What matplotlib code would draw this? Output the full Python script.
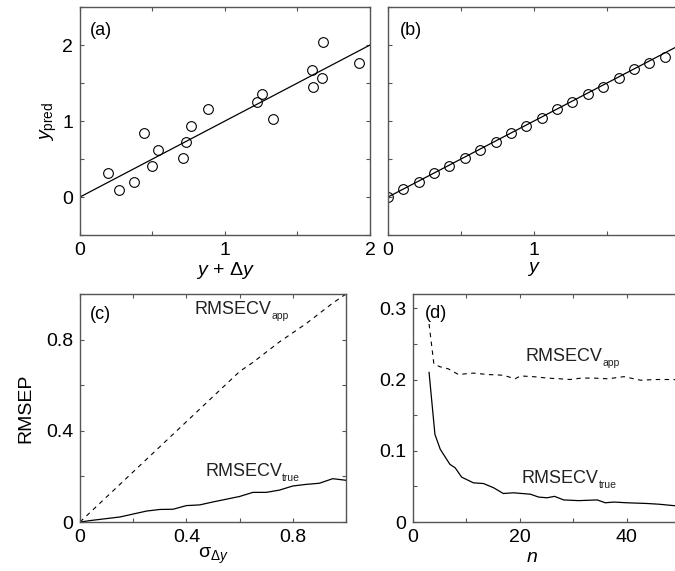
import numpy as np
import matplotlib
matplotlib.use('Agg')
import matplotlib.pyplot as plt

plt.rcParams['font.family'] = ['Liberation Sans', 'DejaVu Sans']
plt.rcParams['mathtext.fontset'] = 'custom'
plt.rcParams['mathtext.rm'] = 'Liberation Sans'
plt.rcParams['mathtext.it'] = 'Liberation Sans:italic'
plt.rcParams['mathtext.sf'] = 'Liberation Sans'

# (a) predictions against noisy reference values
a_x = [0.19, 0.27, 0.375, 0.44, 0.50, 0.54, 0.71, 0.73, 0.765, 0.88,
       1.22, 1.255, 1.33, 1.60, 1.605, 1.67, 1.675, 1.925]
a_y = [0.31, 0.09, 0.20, 0.84, 0.41, 0.62, 0.52, 0.73, 0.94, 1.16,
       1.25, 1.36, 1.03, 1.675, 1.45, 1.56, 2.04, 1.76]
fit_x = [0, 2]
fit_y = [0, 2]

# (b) predictions against true values
b_x = [0, 0.105, 0.211, 0.316, 0.421, 0.526, 0.632, 0.737, 0.842, 0.947,
       1.053, 1.158, 1.263, 1.368, 1.474, 1.579, 1.684, 1.789, 1.895, 2.0]
b_y = [0, 0.10, 0.20, 0.31, 0.41, 0.52, 0.62, 0.73, 0.84, 0.94,
       1.04, 1.16, 1.25, 1.36, 1.45, 1.56, 1.68, 1.76, 1.84, 2.04]

# (c) RMSECV vs noise level
sigma = [0, 0.05, 0.1, 0.15, 0.2, 0.25, 0.3, 0.35, 0.4, 0.45, 0.5,
         0.55, 0.6, 0.65, 0.7, 0.75, 0.8, 0.85, 0.9, 0.95, 1.0]
c_app = [0, 0.055, 0.11, 0.165, 0.22, 0.275, 0.33, 0.385, 0.44, 0.495, 0.55,
         0.605, 0.66, 0.70, 0.745, 0.79, 0.83, 0.87, 0.915, 0.96, 1.0]
c_true = [0, 0.008, 0.015, 0.022, 0.035, 0.048, 0.055, 0.056, 0.072, 0.075,
          0.088, 0.10, 0.112, 0.13, 0.13, 0.14, 0.158, 0.165, 0.17, 0.19, 0.183]

# (d) RMSECV vs number of samples
n_app = [3, 3.9, 5, 6.6, 8.5, 11.3, 14, 16.9, 19.1, 20.1, 22.5, 25.1,
         27.5, 29.5, 31.5, 33.8, 36.5, 39.5, 42.6, 45.5, 48.8, 50]
d_app = [0.278, 0.222, 0.218, 0.215, 0.207, 0.209, 0.207, 0.206, 0.201, 0.205,
         0.204, 0.202, 0.201, 0.200, 0.202, 0.202, 0.201, 0.204, 0.199, 0.200,
         0.200, 0.199]
n_true = [3, 4.1, 5.1, 6.9, 7.9, 9.1, 11.3, 13.2, 15.1, 16.9, 18.8, 22,
          23.5, 25.1, 26.5, 28.2, 31, 34.5, 36, 37.6, 40, 43.8, 46, 48.8, 50]
d_true = [0.210, 0.123, 0.102, 0.081, 0.076, 0.063, 0.055, 0.054, 0.048, 0.040,
          0.041, 0.039, 0.035, 0.034, 0.036, 0.031, 0.030, 0.031, 0.027, 0.028,
          0.027, 0.026, 0.025, 0.023, 0.023]

spine_col = '#555555'
fs_tick = 14
fs_lab = 14


def style(ax, xt, xl, yt, yl):
    ax.set_xticks(xt, xl)
    ax.set_yticks(yt, yl)
    ax.tick_params(direction='in', length=3, width=0.8, color=spine_col,
                   top=True, right=True, labelsize=fs_tick, pad=5)
    for s in ax.spines.values():
        s.set_color(spine_col)
        s.set_linewidth(1.0)


def sub_label(ax, x, y, main, sub):
    t = ax.text(x, y, main, transform=ax.transAxes, fontsize=13,
                va='center', ha='left', color='#222222')
    ax.annotate(sub, xy=(1.0, 0.12), xycoords=t, fontsize=7.5,
                va='center', ha='left', color='#222222')


fig = plt.figure(figsize=[6.75, 5.71], dpi=100)
ax_a = fig.add_axes([0.1185, 0.5884, 0.4296, 0.3993])
ax_b = fig.add_axes([0.5748, 0.5884, 0.4326, 0.3993])
ax_c = fig.add_axes([0.1185, 0.0858, 0.3941, 0.3993])
ax_d = fig.add_axes([0.6119, 0.0858, 0.3956, 0.3993])

ticks_ab = [0, 0.5, 1, 1.5, 2]
labs_ab = ['0', '', '1', '', '2']
yticks_ab = [-0.5, 0, 0.5, 1, 1.5, 2, 2.5]

# (a)
ax_a.plot(fit_x, fit_y, 'k-', lw=0.9)
ax_a.plot(a_x, a_y, 'o', mfc='none', mec='k', ms=7, mew=0.8)
ax_a.set_xlim(0, 2)
ax_a.set_ylim(-0.5, 2.5)
style(ax_a, ticks_ab, labs_ab, yticks_ab, ['', '0', '', '1', '', '2', ''])
ax_a.set_xlabel(r'$y$ + $\Delta y$', fontsize=fs_lab, labelpad=1)
ax_a.set_ylabel(r'$y_{\mathrm{pred}}$', fontsize=fs_lab, labelpad=2)
ax_a.text(0.035, 0.895, '(a)', transform=ax_a.transAxes, fontsize=13,
          va='center')

# (b)
ax_b.plot(fit_x, fit_y, 'k-', lw=0.9)
ax_b.plot(b_x, b_y, 'o', mfc='none', mec='k', ms=7, mew=0.8)
ax_b.set_xlim(0, 2)
ax_b.set_ylim(-0.5, 2.5)
style(ax_b, ticks_ab, labs_ab, yticks_ab, [''] * 7)
ax_b.set_xlabel(r'$y$', fontsize=fs_lab, labelpad=1)
ax_b.text(0.041, 0.895, '(b)', transform=ax_b.transAxes, fontsize=13,
          va='center')

# (c)
ax_c.plot(sigma, c_app, 'k--', lw=0.8, dashes=(4, 4))
ax_c.plot(sigma, c_true, 'k-', lw=0.9)
ax_c.set_xlim(0, 1)
ax_c.set_ylim(0, 1)
style(ax_c, [0, 0.2, 0.4, 0.6, 0.8, 1.0], ['0', '', '0.4', '', '0.8', ''],
      [0, 0.2, 0.4, 0.6, 0.8, 1.0], ['0', '', '0.4', '', '0.8', ''])
ax_c.set_xlabel(r'$\mathrm{\sigma}_{\Delta y}$', fontsize=fs_lab, labelpad=0)
ax_c.set_ylabel('RMSEP', fontsize=fs_lab, labelpad=8)
ax_c.text(0.038, 0.912, '(c)', transform=ax_c.transAxes, fontsize=13,
          va='center')
sub_label(ax_c, 0.432, 0.934, 'RMSECV', 'app')
sub_label(ax_c, 0.47, 0.22, 'RMSECV', 'true')

# (d)
ax_d.plot(n_app, d_app, 'k--', lw=0.8, dashes=(4, 4))
ax_d.plot(n_true, d_true, 'k-', lw=0.9)
ax_d.set_xlim(0, 50)
ax_d.set_ylim(0, 0.32)
style(ax_d, [0, 10, 20, 30, 40, 50], ['0', '', '20', '', '40', ''],
      [0, 0.05, 0.1, 0.15, 0.2, 0.25, 0.3],
      ['0', '', '0.1', '', '0.2', '', '0.3'])
ax_d.set_xlabel(r'$n$', fontsize=fs_lab)
ax_d.xaxis.set_label_coords(0.446, -0.12)
ax_d.text(0.045, 0.916, '(d)', transform=ax_d.transAxes, fontsize=13,
          va='center')
sub_label(ax_d, 0.42, 0.727, 'RMSECV', 'app')
sub_label(ax_d, 0.408, 0.19, 'RMSECV', 'true')

fig.savefig('out.png', dpi=100)
